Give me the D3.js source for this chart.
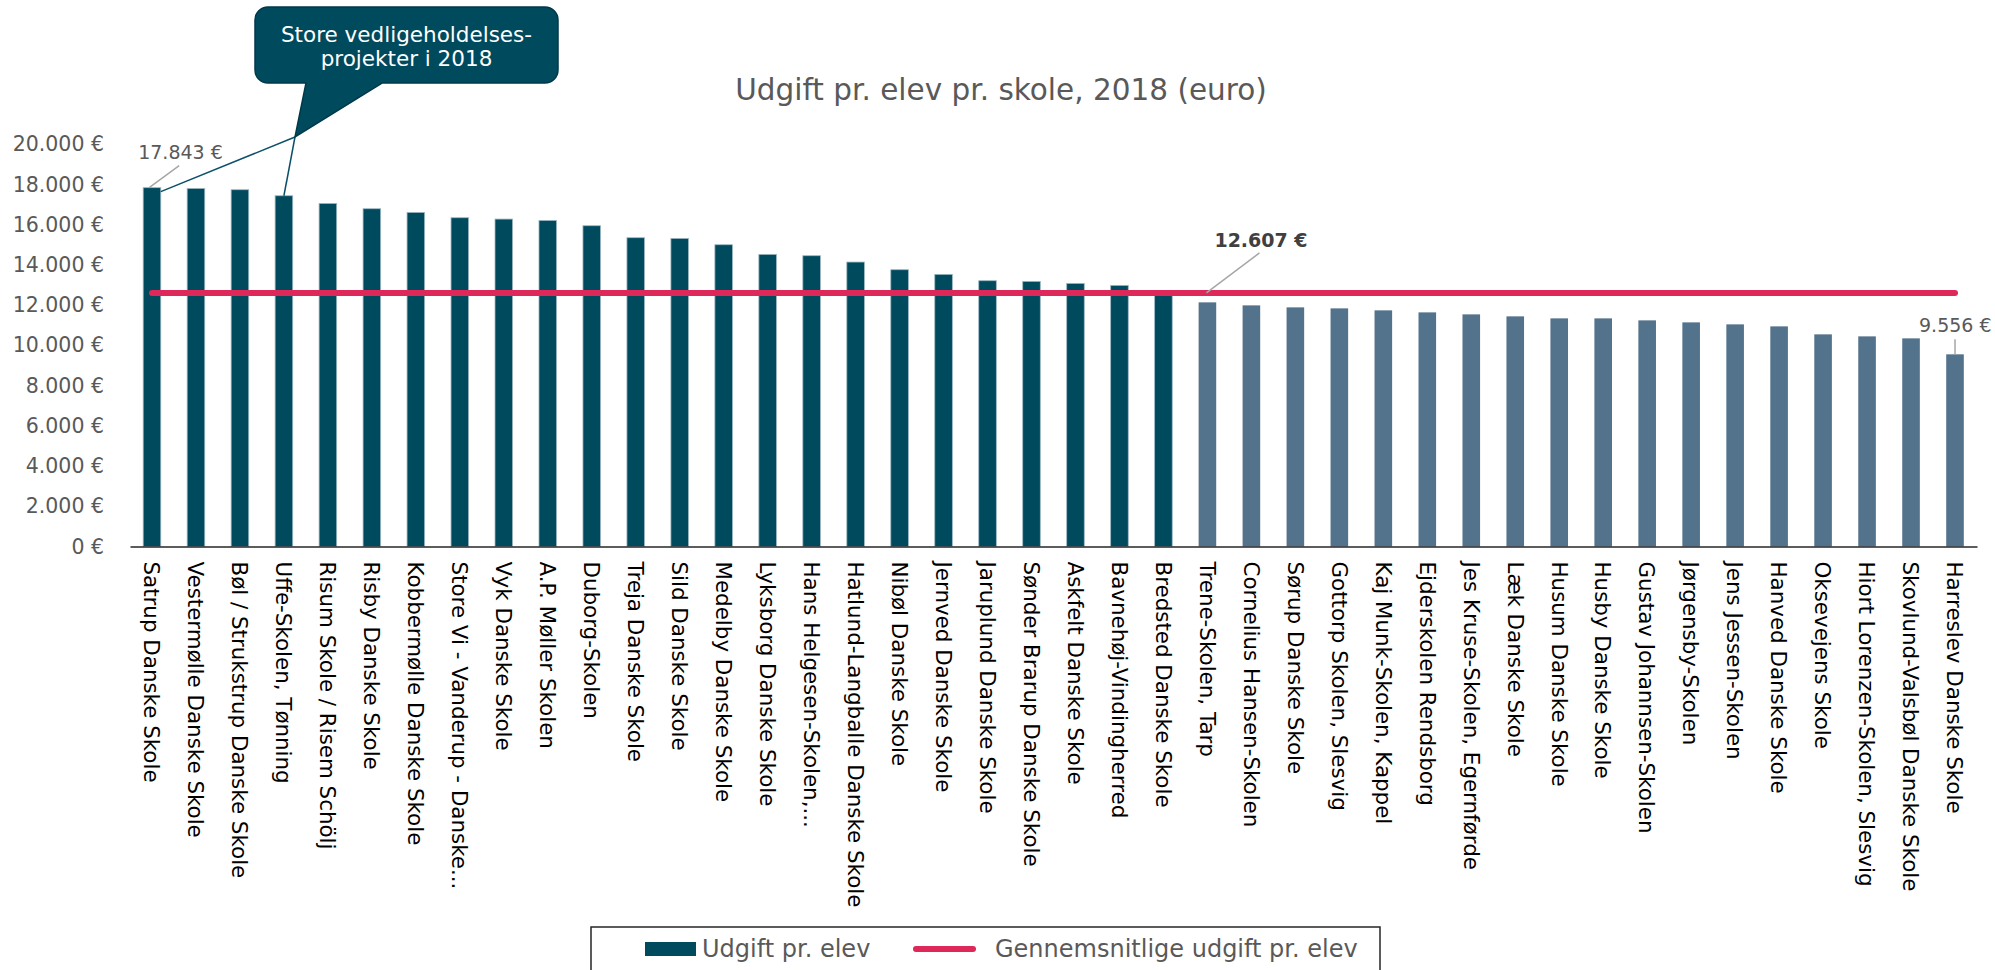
<!DOCTYPE html>
<html>
<head>
<meta charset="utf-8">
<script src="https://cdn.jsdelivr.net/npm/d3@7"></script>
<style>
  html, body { margin: 0; padding: 0; background: #fff; }
  svg { display: block; font-family: "DejaVu Sans", Verdana, sans-serif; }
</style>
</head>
<body>
<svg id="chart" width="1995" height="970"></svg>
<script>
// ---------- DATA ----------
const categories = [
  "Satrup Danske Skole", "Vestermølle Danske Skole", "Bøl / Strukstrup Danske Skole",
  "Uffe-Skolen, Tønning", "Risum Skole / Risem Schölj", "Risby Danske Skole",
  "Kobbermølle Danske Skole", "Store Vi - Vanderup - Danske...", "Vyk Danske Skole",
  "A.P. Møller Skolen", "Duborg-Skolen", "Treja Danske Skole", "Sild Danske Skole",
  "Medelby Danske Skole", "Lyksborg Danske Skole", "Hans Helgesen-Skolen,...",
  "Hatlund-Langballe Danske Skole", "Nibøl Danske Skole", "Jernved Danske Skole",
  "Jaruplund Danske Skole", "Sønder Brarup Danske Skole", "Askfelt Danske Skole",
  "Bavnehøj-Vindingherred", "Bredsted Danske Skole", "Trene-Skolen, Tarp",
  "Cornelius Hansen-Skolen", "Sørup Danske Skole", "Gottorp Skolen, Slesvig",
  "Kaj Munk-Skolen, Kappel", "Ejderskolen Rendsborg", "Jes Kruse-Skolen, Egernførde",
  "Læk Danske Skole", "Husum Danske Skole", "Husby Danske Skole",
  "Gustav Johannsen-Skolen", "Jørgensby-Skolen", "Jens Jessen-Skolen",
  "Hanved Danske Skole", "Oksevejens Skole", "Hiort Lorenzen-Skolen, Slesvig",
  "Skovlund-Valsbøl Danske Skole", "Harreslev Danske Skole"
];
const expensePerPupil = [
  17843, 17807, 17741, 17442, 17061, 16796, 16614, 16349, 16282, 16216,
  15951, 15355, 15321, 15006, 14526, 14460, 14145, 13764, 13532, 13217,
  13184, 13084, 12985, 12620, 12140, 11990, 11891, 11841, 11742, 11642,
  11543, 11444, 11344, 11344, 11245, 11145, 11046, 10946, 10549, 10449,
  10350, 9556
];
const averageExpense = 12607;
const yTicks = [0, 2000, 4000, 6000, 8000, 10000, 12000, 14000, 16000, 18000, 20000];
const seriesNames = ["Udgift pr. elev", "Gennemsnitlige udgift pr. elev"];
const titleText = "Udgift pr. elev pr. skole, 2018 (euro)";
const calloutLines = ["Store vedligeholdelses-", "projekter i 2018"];
const calloutSchools = ["Satrup Danske Skole", "Uffe-Skolen, Tønning"];

// ---------- STYLE ----------
const colAbove = "#004A5E";
const colBelow = "#53728C";
const colAvg = "#DE285A";
const colGrey = "#595959";

const locale = d3.formatLocale({decimal: ",", thousands: ".", grouping: [3], currency: ["", " €"]});
const fmt = v => locale.format(",.0f")(v) + " €";

const svg = d3.select("#chart");

const x = d3.scaleBand().domain(categories).range([130, 1977]).paddingInner(0.6).paddingOuter(0.3);
const y = d3.scaleLinear().domain([0, 20000]).range([546.5, 144.3]);

// title
svg.append("text")
  .attr("x", 1001).attr("y", 100)
  .attr("text-anchor", "middle")
  .attr("font-size", 29.5).attr("fill", colGrey)
  .text(titleText);

// y axis
const yAxis = svg.append("g")
  .attr("transform", "translate(130,0)")
  .call(d3.axisLeft(y).tickValues(yTicks).tickSize(0).tickPadding(26).tickFormat(fmt));
yAxis.select(".domain").remove();
yAxis.selectAll("text").attr("font-size", 20.5).attr("fill", colGrey).attr("font-family", "DejaVu Sans");

// bars
const data = categories.map((c, i) => ({c, v: expensePerPupil[i]}));
svg.append("g").selectAll("rect").data(data).join("rect")
  .attr("x", d => x(d.c))
  .attr("width", x.bandwidth())
  .attr("y", d => y(d.v))
  .attr("height", d => y(0) - y(d.v))
  .attr("fill", d => d.v >= averageExpense ? colAbove : colBelow)
  .attr("stroke", d => d.v >= averageExpense ? "#9DB8C3" : "none")
  .attr("stroke-width", 0.8);

// x axis
const xAxis = svg.append("g")
  .attr("transform", `translate(0,${y(0)})`)
  .call(d3.axisBottom(x).tickSize(0));
xAxis.select(".domain").attr("stroke", "#262626").attr("stroke-width", 1.5);
xAxis.selectAll("text")
  .attr("transform", "rotate(90)")
  .attr("x", 15).attr("y", 0).attr("dy", "0.36em")
  .attr("text-anchor", "start")
  .attr("font-size", 21.4).attr("fill", "#000").attr("font-family", "DejaVu Sans");

// average line
const firstC = categories[0], lastC = categories[categories.length - 1];
const cx = c => x(c) + x.bandwidth() / 2;
svg.append("line")
  .attr("x1", cx(firstC)).attr("x2", cx(lastC))
  .attr("y1", y(averageExpense)).attr("y2", y(averageExpense))
  .attr("stroke", colAvg).attr("stroke-width", 6).attr("stroke-linecap", "round");

// data labels
const maxIdx = d3.maxIndex(expensePerPupil);
const minIdx = d3.minIndex(expensePerPupil);
const leader = "#A6A6A6";
// max label
{
  const bx = x(categories[maxIdx]), by = y(expensePerPupil[maxIdx]);
  svg.append("line").attr("x1", bx + 6).attr("y1", by).attr("x2", bx + 36).attr("y2", by - 22)
    .attr("stroke", leader).attr("stroke-width", 1.5);
  svg.append("text").attr("x", bx - 5).attr("y", by - 29)
    .attr("font-size", 19).attr("fill", colGrey).text(fmt(expensePerPupil[maxIdx]));
}
// min label
{
  const c = cx(categories[minIdx]), by = y(expensePerPupil[minIdx]);
  svg.append("line").attr("x1", c).attr("y1", by).attr("x2", c).attr("y2", by - 15)
    .attr("stroke", leader).attr("stroke-width", 1.5);
  svg.append("text").attr("x", c - 36).attr("y", by - 22)
    .attr("font-size", 19).attr("fill", colGrey).text(fmt(expensePerPupil[minIdx]));
}
// average label
{
  const ay = y(averageExpense);
  const ax = cx(categories[24]);
  svg.append("line").attr("x1", ax - 1).attr("y1", ay).attr("x2", ax + 52).attr("y2", ay - 40)
    .attr("stroke", leader).attr("stroke-width", 1.5);
  svg.append("text").attr("x", ax + 7).attr("y", ay - 46)
    .attr("font-size", 19).attr("font-weight", "bold").attr("fill", "#404040")
    .text(fmt(averageExpense));
}

// callout
const tip = [295, 137];
const calloutColor = "#004A5E";
calloutSchools.forEach((s, k) => {
  const bx = k === 0 ? x(s) + x.bandwidth() : cx(s);
  const by = y(expensePerPupil[categories.indexOf(s)]) + (k === 0 ? 4 : 0);
  svg.append("line").attr("x1", tip[0]).attr("y1", tip[1]).attr("x2", bx).attr("y2", by)
    .attr("stroke", "#0B5068").attr("stroke-width", 1.5);
});
{
  const L = 255, T = 7, R = 558, B = 83, r = 13;
  const p = d3.path();
  p.moveTo(L + r, T);
  p.lineTo(R - r, T); p.arcTo(R, T, R, T + r, r);
  p.lineTo(R, B - r); p.arcTo(R, B, R - r, B, r);
  p.lineTo(382, B); p.lineTo(tip[0], tip[1]); p.lineTo(306, B);
  p.lineTo(L + r, B); p.arcTo(L, B, L, B - r, r);
  p.lineTo(L, T + r); p.arcTo(L, T, L + r, T, r);
  p.closePath();
  svg.append("path").attr("d", p.toString())
    .attr("fill", calloutColor).attr("stroke", "#00394A").attr("stroke-width", 1.5);
  svg.append("text").attr("x", (L + R) / 2).attr("y", 42)
    .attr("text-anchor", "middle").attr("font-size", 21.5).attr("fill", "#fff")
    .selectAll("tspan").data(calloutLines).join("tspan")
    .attr("x", (L + R) / 2).attr("dy", (d, i) => i === 0 ? 0 : 24).text(d => d);
}

// legend
const lg = svg.append("g");
lg.append("rect").attr("x", 591).attr("y", 927).attr("width", 789).attr("height", 60)
  .attr("fill", "#fff").attr("stroke", "#262626").attr("stroke-width", 1.5);
lg.append("rect").attr("x", 645).attr("y", 942).attr("width", 51).attr("height", 14).attr("fill", colAbove);
lg.append("text").attr("x", 702).attr("y", 957).attr("font-size", 24).attr("fill", colGrey).text(seriesNames[0]);
lg.append("line").attr("x1", 916).attr("x2", 973).attr("y1", 949).attr("y2", 949)
  .attr("stroke", colAvg).attr("stroke-width", 6).attr("stroke-linecap", "round");
lg.append("text").attr("x", 995).attr("y", 957).attr("font-size", 24).attr("fill", colGrey).text(seriesNames[1]);
</script>
</body>
</html>
